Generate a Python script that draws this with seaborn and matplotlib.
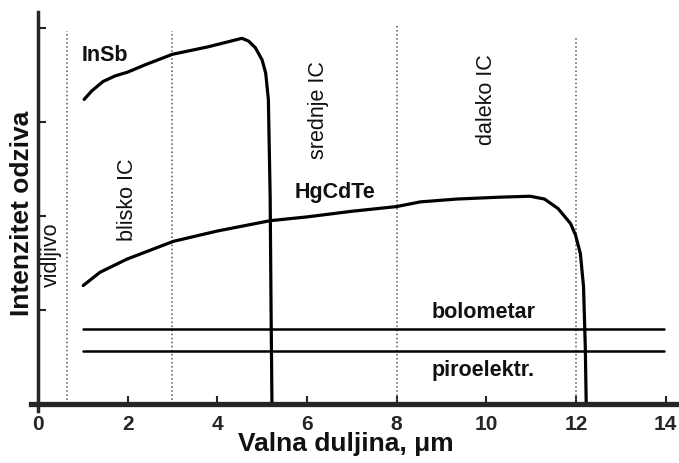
import matplotlib
matplotlib.use("Agg")
import matplotlib.pyplot as plt
import seaborn as sns
import pandas as pd

# spectral response curves (wavelength in um, relative response)
insb_x = [1.03, 1.2, 1.45, 1.72, 2.0, 2.4, 3.0, 3.8, 4.55, 4.7, 4.85, 5.0, 5.08, 5.14,
          5.18, 5.2, 5.22]
insb_y = [3.24, 3.33, 3.43, 3.49, 3.53, 3.61, 3.72, 3.80, 3.89, 3.86, 3.79, 3.66, 3.52,
          3.24, 2.2, 1.0, 0.0]

hgcdte_x = [1.01, 1.38, 1.98, 3.02, 4.0, 5.18, 6.0, 7.0, 8.0, 8.53, 9.34, 10.3, 10.98,
            11.3, 11.6, 11.88, 11.99, 12.1, 12.17, 12.21, 12.23]
hgcdte_y = [1.26, 1.40, 1.54, 1.73, 1.84, 1.95, 1.99, 2.05, 2.10, 2.15, 2.18, 2.20, 2.21,
            2.18, 2.08, 1.92, 1.80, 1.60, 1.25, 0.6, 0.0]

bolometar_x = [1.0, 13.97]
bolometar_y = [0.80, 0.80]
piro_x = [1.0, 13.97]
piro_y = [0.56, 0.56]

# spectral band boundaries and how high their dotted lines go
band_edges = [0.65, 3.0, 8.0, 12.0]
band_tops = [3.97, 3.97, 4.02, 3.90]

x_ticks = [0, 2, 4, 6, 8, 10, 12, 14]
y_ticks = [1, 2, 3, 4]

sns.set_style("ticks")
plt.rcParams['font.family'] = ['Liberation Sans', 'DejaVu Sans']

fig = plt.figure(figsize=(6.79, 4.64), dpi=100)
ax = fig.add_axes([0.046, 0.113, 0.954, 0.859])

ax.vlines(band_edges, 0, band_tops, colors='#555555', linestyles=':', linewidth=1.1)

curves = pd.concat([
    pd.DataFrame({'x': insb_x, 'y': insb_y, 'det': 'InSb'}),
    pd.DataFrame({'x': hgcdte_x, 'y': hgcdte_y, 'det': 'HgCdTe'}),
])
for name, grp in curves.groupby('det'):
    sns.lineplot(data=grp, x='x', y='y', sort=False, color='black', lw=2.3,
                 ax=ax, legend=False)

sns.lineplot(x=bolometar_x, y=bolometar_y, color='black', lw=1.8, ax=ax)
sns.lineplot(x=piro_x, y=piro_y, color='black', lw=1.8, ax=ax)

# annotations
bold = dict(fontsize=15.5, fontweight='bold', color='#111111')
ax.text(1.5, 3.72, 'InSb', ha='center', va='center', **bold)
ax.text(6.63, 2.26, 'HgCdTe', ha='center', va='center', **bold)
ax.text(9.93, 0.98, 'bolometar', ha='center', va='center', **bold)
ax.text(9.93, 0.37, 'piroelektr.', ha='center', va='center', **bold)

reg = dict(fontsize=15.5, rotation=90, ha='center', va='center', color='#111111')
ax.text(0.31, 1.6, 'vidljivo', **reg)
ax.text(2.0, 2.18, 'blisko IC', **reg)
ax.text(6.25, 3.14, 'srednje IC', **reg)
ax.text(10.0, 3.25, 'daleko IC', **reg)

ax.set_xlim(-0.15, 14.3)
ax.set_ylim(-0.07, 4.17)
ax.spines['left'].set_position(('data', 0))
ax.spines['bottom'].set_position(('data', 0))
ax.spines['left'].set_linewidth(2.5)
ax.spines['bottom'].set_linewidth(3.8)
ax.spines['top'].set_visible(False)
ax.spines['right'].set_visible(False)

ax.set_xticks(x_ticks)
ax.set_xticklabels([str(t) for t in x_ticks], fontweight='bold', fontsize=15)
ax.set_yticks(y_ticks)
ax.set_yticklabels([])
ax.tick_params(axis='x', direction='in', length=6, width=1.5, pad=7)
ax.tick_params(axis='y', direction='in', length=6, width=1.5)
ax.set_xlabel('')
ax.set_ylabel('')

fig.text(346 / 679, 1 - 444 / 464, 'Valna duljina, \u03bcm', fontsize=19,
         fontweight='bold', ha='center', va='center', color='#111111')
fig.text(22 / 679, 1 - 213 / 464, 'Intenzitet odziva', fontsize=19, rotation=90,
         fontweight='bold', ha='center', va='center', color='#111111')

fig.savefig('out.png', dpi=100)
